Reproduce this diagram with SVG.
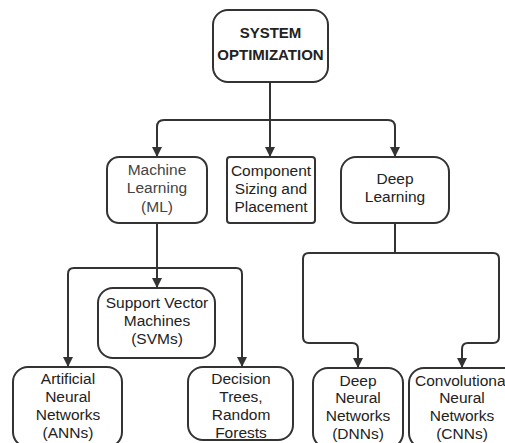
<svg xmlns="http://www.w3.org/2000/svg" width="505" height="443" viewBox="0 0 505 443">
<style>
.box{fill:#fff;stroke:#333;stroke-width:2}
.t{font-family:"Liberation Sans",Arial,sans-serif;font-size:15.5px;fill:#222;text-anchor:middle}
.b{font-weight:bold;font-size:15px}
.g{fill:#444}
.c{fill:none;stroke:#333;stroke-width:2}
</style>
<defs>
<marker id="ah" markerUnits="userSpaceOnUse" markerWidth="10" markerHeight="12" refX="9" refY="5" orient="auto">
<path d="M0,0 L10,5 L0,10 Z" fill="#333"/>
</marker>
</defs>
<rect width="505" height="443" fill="#fff"/>
<g id="connectors">
<path class="c" d="M270,82 V120"/>
<path class="c" d="M157,156 V127 Q157,120 164,120 H388 Q395,120 395,127 V156" marker-end="url(#ah)"/>
<path class="c" d="M157,127 V156" marker-end="url(#ah)"/>
<path class="c" d="M270,120 V156" marker-end="url(#ah)"/>
<path class="c" d="M157,223 V268"/>
<path class="c" d="M157,268 V287" marker-end="url(#ah)"/>
<path class="c" d="M68,366 V274 Q68,268 74,268 H236 Q242,268 242,274 V366" marker-end="url(#ah)"/>
<path class="c" d="M68,274 V366" marker-end="url(#ah)"/>
<path class="c" d="M395,223 V253"/>
<path class="c" d="M358,367 V349 Q358,343 352,343 H309 Q303,343 303,337 V259 Q303,253 309,253 H493 Q499,253 499,259 V337 Q499,343 493,343 H468 Q462,343 462,349 V367" marker-end="url(#ah)"/>
<path class="c" d="M358,349 V367" marker-end="url(#ah)"/>
</g>
<g id="system">
<rect class="box" x="213" y="10" width="115" height="72" rx="15"/>
<text class="t b" x="270.5" y="38">SYSTEM</text>
<text class="t b" x="270.5" y="60">OPTIMIZATION</text>
</g>
<g id="ml">
<rect class="box" x="107" y="157" width="100" height="66" rx="12"/>
<text class="t g" x="157" y="175">Machine</text>
<text class="t g" x="157" y="193">Learning</text>
<text class="t g" x="157" y="212">(ML)</text>
</g>
<g id="component">
<rect class="box" x="227" y="157" width="88" height="66" rx="3"/>
<text class="t" x="271" y="176">Component</text>
<text class="t" x="271" y="194">Sizing and</text>
<text class="t" x="271" y="212">Placement</text>
</g>
<g id="dl">
<rect class="box" x="341" y="157" width="108" height="66" rx="15"/>
<text class="t" x="395" y="184">Deep</text>
<text class="t" x="395" y="202">Learning</text>
</g>
<g id="svm">
<rect class="box" x="98" y="288" width="117" height="70" rx="15"/>
<text class="t" x="157" y="308">Support Vector</text>
<text class="t" x="157" y="326">Machines</text>
<text class="t" x="157" y="344">(SVMs)</text>
</g>
<g id="ann">
<rect class="box" x="13" y="367" width="109" height="80" rx="15"/>
<text class="t" x="68" y="384">Artificial</text>
<text class="t" x="68" y="402">Neural</text>
<text class="t" x="68" y="420">Networks</text>
<text class="t" x="68" y="438">(ANNs)</text>
</g>
<g id="dt">
<rect class="box" x="188" y="367" width="105" height="73" rx="15"/>
<text class="t" x="241" y="384">Decision</text>
<text class="t" x="241" y="402">Trees,</text>
<text class="t" x="241" y="420">Random</text>
<text class="t" x="241" y="438">Forests</text>
</g>
<g id="dnn">
<rect class="box" x="313" y="368" width="90" height="80" rx="15"/>
<text class="t" x="358" y="386">Deep</text>
<text class="t" x="358" y="403">Neural</text>
<text class="t" x="358" y="421">Networks</text>
<text class="t" x="358" y="439">(DNNs)</text>
</g>
<g id="cnn">
<rect class="box" x="409" y="368" width="110" height="80" rx="15"/>
<text class="t" x="462" y="386">Convolutional</text>
<text class="t" x="462" y="403">Neural</text>
<text class="t" x="462" y="421">Networks</text>
<text class="t" x="462" y="439">(CNNs)</text>
</g>
</svg>
